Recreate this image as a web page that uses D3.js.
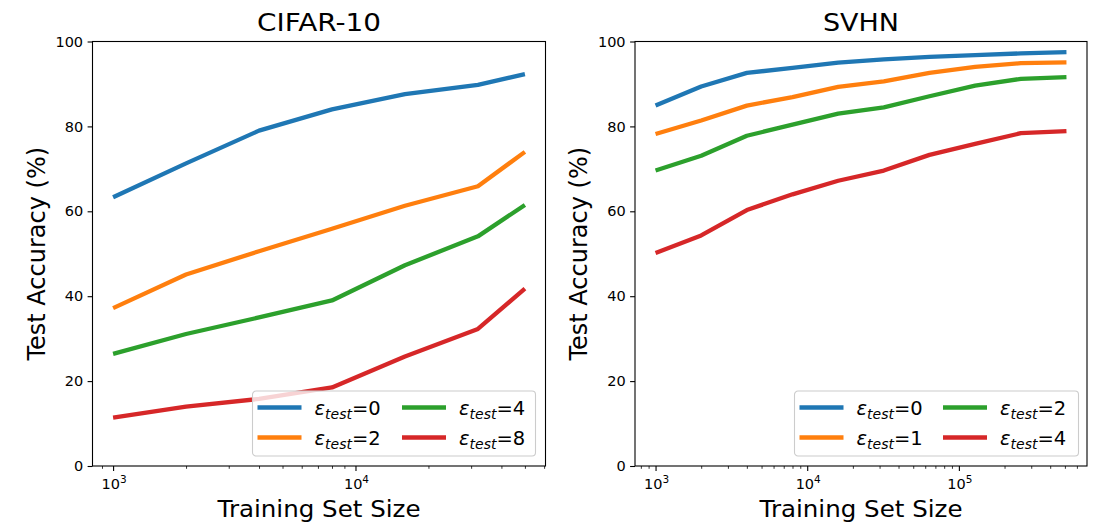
<!DOCTYPE html>
<html>
<head>
<meta charset="utf-8">
<script src="https://cdn.jsdelivr.net/npm/d3@7"></script>
<style>
  body { margin: 0; background: #fff; }
  text { font-family: "DejaVu Sans", sans-serif; fill: #000; }
</style>
</head>
<body>
<div id="chart"></div>
<script>
// data
var cifarSizes = [1000, 2000, 4000, 8000, 16000, 32000, 50000];
var cifarEps0 = [63.3, 71.3, 79.0, 84.0, 87.6, 89.8, 92.3];
var cifarEps2 = [37.2, 45.1, 50.6, 55.9, 61.3, 65.9, 74.0];
var cifarEps4 = [26.4, 31.1, 35.0, 39.0, 47.3, 54.1, 61.5];
var cifarEps8 = [11.4, 14.0, 15.8, 18.5, 25.8, 32.3, 41.8];
var cifarLabels = ["0", "2", "4", "8"];

var svhnSizes = [1000, 2000, 4000, 8000, 16000, 32000, 64000, 128000, 256000, 512000];
var svhnEps0 = [84.9, 89.4, 92.6, 93.8, 95.0, 95.8, 96.4, 96.8, 97.2, 97.5];
var svhnEps1 = [78.2, 81.4, 84.9, 86.9, 89.3, 90.6, 92.6, 94.0, 94.9, 95.1];
var svhnEps2 = [69.6, 73.1, 77.8, 80.4, 83.0, 84.5, 87.1, 89.6, 91.2, 91.6];
var svhnEps4 = [50.2, 54.3, 60.3, 64.0, 67.2, 69.6, 73.3, 75.9, 78.4, 78.9];
var svhnLabels = ["0", "1", "2", "4"];

var yTicks = [0, 20, 40, 60, 80, 100];
var colors = ["#1f77b4", "#ff7f0e", "#2ca02c", "#d62728"];

var svgWidth = 1094;
var svgHeight = 525;

var svg = d3.select("#chart")
    .append("svg")
    .attr("width", svgWidth)
    .attr("height", svgHeight);

function drawPanel(opts) {
    var left = opts.left, right = opts.right;
    var top = 41.5, bottom = 466;

    // matplotlib style 5% margins on log axis
    var lo = Math.log10(d3.min(opts.sizes)), hi = Math.log10(d3.max(opts.sizes));
    var pad = (hi - lo) * 0.05;
    var x = d3.scaleLog()
        .domain([Math.pow(10, lo - pad), Math.pow(10, hi + pad)])
        .range([left, right]);
    var y = d3.scaleLinear().domain([0, 100]).range([bottom, top]);

    var g = svg.append("g");

    // lines
    var line = d3.line()
        .x(function (d) { return x(d[0]); })
        .y(function (d) { return y(d[1]); });

    opts.series.forEach(function (vals, i) {
        g.append("path")
            .datum(opts.sizes.map(function (s, j) { return [s, vals[j]]; }))
            .attr("fill", "none")
            .attr("stroke", colors[i])
            .attr("stroke-width", 4.3)
            .attr("stroke-linejoin", "round")
            .attr("d", line);
    });

    // axes
    var allTicks = x.ticks();
    var major = allTicks.filter(function (t) { return Math.abs(Math.log10(t) - Math.round(Math.log10(t))) < 1e-9; });
    var minor = allTicks.filter(function (t) { return major.indexOf(t) < 0; });

    g.append("g")
        .attr("transform", "translate(0," + bottom + ")")
        .call(d3.axisBottom(x).tickValues(minor).tickSize(2.8).tickFormat(""))
        .call(function (a) { a.select(".domain").remove(); a.selectAll("line").attr("stroke-width", 0.8); });

    var xa = g.append("g")
        .attr("transform", "translate(0," + bottom + ")")
        .call(d3.axisBottom(x).tickValues(major).tickSize(4.9).tickFormat(""));
    xa.select(".domain").remove();
    xa.selectAll("line").attr("stroke-width", 1.1);

    major.forEach(function (t) {
        var txt = g.append("text")
            .attr("x", x(t) + 1)
            .attr("y", bottom + 23)
            .attr("text-anchor", "middle")
            .attr("font-size", 14.5);
        txt.append("tspan").text("10");
        txt.append("tspan").attr("dy", -6).attr("font-size", 10.5).text(String(Math.round(Math.log10(t))));
    });

    var ya = g.append("g")
        .attr("transform", "translate(" + left + ",0)")
        .call(d3.axisLeft(y).tickValues(yTicks).tickSize(4.9).tickPadding(4.5));
    ya.select(".domain").remove();
    ya.selectAll("line").attr("stroke-width", 1.1);
    ya.selectAll("text")
        .attr("font-size", 14.5)
        .style("font-family", "DejaVu Sans");

    // frame
    g.append("rect")
        .attr("x", left).attr("y", top)
        .attr("width", right - left).attr("height", bottom - top)
        .attr("fill", "none").attr("stroke", "#000").attr("stroke-width", 1.1);

    // title and axis labels
    var cx = (left + right) / 2;
    g.append("text")
        .attr("x", cx).attr("y", 30.5)
        .attr("text-anchor", "middle")
        .attr("font-size", 24)
        .attr("textLength", opts.titleLen)
        .attr("lengthAdjust", "spacingAndGlyphs")
        .text(opts.title);

    g.append("text")
        .attr("x", cx).attr("y", 517)
        .attr("text-anchor", "middle")
        .attr("font-size", 23.5)
        .attr("textLength", 203)
        .attr("lengthAdjust", "spacingAndGlyphs")
        .text("Training Set Size");

    g.append("text")
        .attr("transform", "translate(" + (left - 48) + "," + ((top + bottom) / 2) + ") rotate(-90)")
        .attr("text-anchor", "middle")
        .attr("font-size", 24)
        .text("Test Accuracy (%)");

    // legend
    var lg = g.append("g").attr("transform", "translate(" + opts.legendX + ",391)");
    lg.append("rect")
        .attr("width", opts.legendW).attr("height", 65)
        .attr("rx", 3.5)
        .attr("fill", "#fff").attr("fill-opacity", 0.8)
        .attr("stroke", "#cccccc").attr("stroke-width", 1.1);

    opts.labels.forEach(function (lab, i) {
        var col = Math.floor(i / 2), row = i % 2;
        var ox = 5 + col * opts.colW, oy = 16.5 + row * 30;
        lg.append("line")
            .attr("x1", ox).attr("x2", ox + 44)
            .attr("y1", oy).attr("y2", oy)
            .attr("stroke", colors[i]).attr("stroke-width", 4.3);
        var t = lg.append("text")
            .attr("x", ox + 57).attr("y", oy + 7)
            .attr("font-size", 19.5);
        t.append("tspan").attr("font-style", "italic").text("\u03b5");
        t.append("tspan").attr("font-style", "italic").attr("font-size", 14).attr("dy", 4).text("test");
        t.append("tspan").attr("dy", -4).text("=" + lab);
    });
}

drawPanel({
    title: "CIFAR-10",
    titleLen: 124,
    left: 92.5, right: 545.5,
    sizes: cifarSizes,
    series: [cifarEps0, cifarEps2, cifarEps4, cifarEps8],
    labels: cifarLabels,
    legendX: 252.5, legendW: 283, colW: 144.5
});

drawPanel({
    title: "SVHN",
    titleLen: 76,
    left: 635, right: 1087,
    sizes: svhnSizes,
    series: [svhnEps0, svhnEps1, svhnEps2, svhnEps4],
    labels: svhnLabels,
    legendX: 794.5, legendW: 284, colW: 143.5
});
</script>
</body>
</html>
